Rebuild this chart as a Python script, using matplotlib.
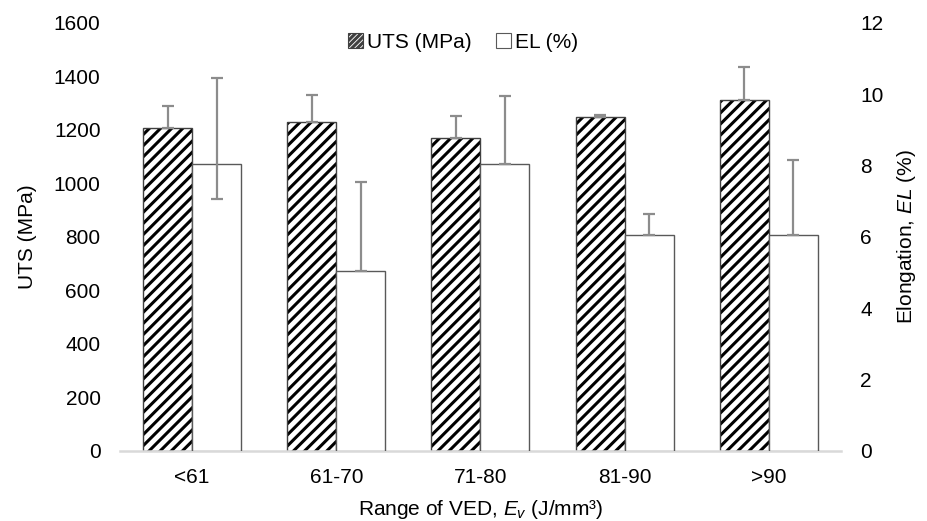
import matplotlib
matplotlib.use("Agg")
import matplotlib.pyplot as plt
import numpy as np
from matplotlib.patches import Patch

plt.rcParams['font.family'] = ['Liberation Sans', 'DejaVu Sans']
plt.rcParams['mathtext.fontset'] = 'custom'
plt.rcParams['mathtext.rm'] = 'Liberation Sans'
plt.rcParams['mathtext.it'] = 'Liberation Sans:italic'
plt.rcParams['hatch.linewidth'] = 2.2

categories = ["<61", "61-70", "71-80", "81-90", ">90"]
uts = [1209, 1231, 1171, 1249, 1311]
uts_err_plus = [82, 100, 81, 8, 124]
uts_err_minus = [0, 0, 0, 0, 0]
el = [8.05, 5.04, 8.05, 6.05, 6.05]
el_err_plus = [2.42, 2.51, 1.91, 0.60, 2.11]
el_err_minus = [0.99, 0, 0, 0, 0]

fig = plt.figure(figsize=(9.28, 5.21), dpi=100)
ax = fig.add_axes([0.1293, 0.1344, 0.7769, 0.8215])
ax2 = ax.twinx()

x = np.arange(len(categories))
w = 0.34
errc = '#8c8c8c'
fs = 15

# UTS hatched bars
ax.bar(x - w/2, uts, w, color='white', edgecolor='black', hatch='///', linewidth=0, zorder=2)
ax.bar(x - w/2, uts, w, fill=False, edgecolor='#404040', linewidth=1.0, zorder=3)
ax.errorbar(x - w/2, uts, yerr=[uts_err_minus, uts_err_plus], fmt='none', ecolor=errc,
            elinewidth=1.6, capsize=4, capthick=1.6, zorder=4)

# EL white bars
ax2.bar(x + w/2, el, w, color='white', edgecolor='#595959', linewidth=1.0, zorder=2)
ax2.errorbar(x + w/2, el, yerr=[el_err_minus, el_err_plus], fmt='none', ecolor=errc,
             elinewidth=1.6, capsize=4, capthick=1.6, zorder=4)

ax.set_xlim(-0.5, len(categories) - 0.5)
ax.set_ylim(0, 1600)
ax.set_yticks(np.arange(0, 1601, 200))
ax2.set_ylim(0, 12)
ax2.set_yticks(np.arange(0, 13, 2))
ax.set_xticks(x)
ax.set_xticklabels(categories)

for a in (ax, ax2):
    for s in a.spines.values():
        s.set_visible(False)
    a.tick_params(length=0, labelsize=fs, colors='black')
ax.spines['bottom'].set_visible(True)
ax.spines['bottom'].set_color('#d9d9d9')
ax.spines['bottom'].set_linewidth(1.8)
ax.spines['bottom'].set_zorder(5)
ax.tick_params(axis='y', pad=14)
ax.tick_params(axis='x', pad=12)
ax2.tick_params(axis='y', pad=14)

ax.set_xlabel("Range of VED, $E_v$ (J/mm³)", fontsize=fs, labelpad=8)
ax.set_ylabel("UTS (MPa)", fontsize=fs, labelpad=12)
ax2.set_ylabel("Elongation, $EL$ (%)", fontsize=fs, labelpad=8)

handles = [Patch(facecolor='white', edgecolor='#404040', hatch='//////', linewidth=0.8),
           Patch(facecolor='white', edgecolor='#595959', linewidth=0.8)]
fig.legend(handles, ["UTS (MPa)", "EL (%)"], loc='center', bbox_to_anchor=(0.499, 0.919),
           ncol=2, frameon=False, fontsize=fs, handlelength=0.7, handleheight=0.7,
           handletextpad=0.2, columnspacing=1.2)

fig.savefig("out.png", dpi=100)
